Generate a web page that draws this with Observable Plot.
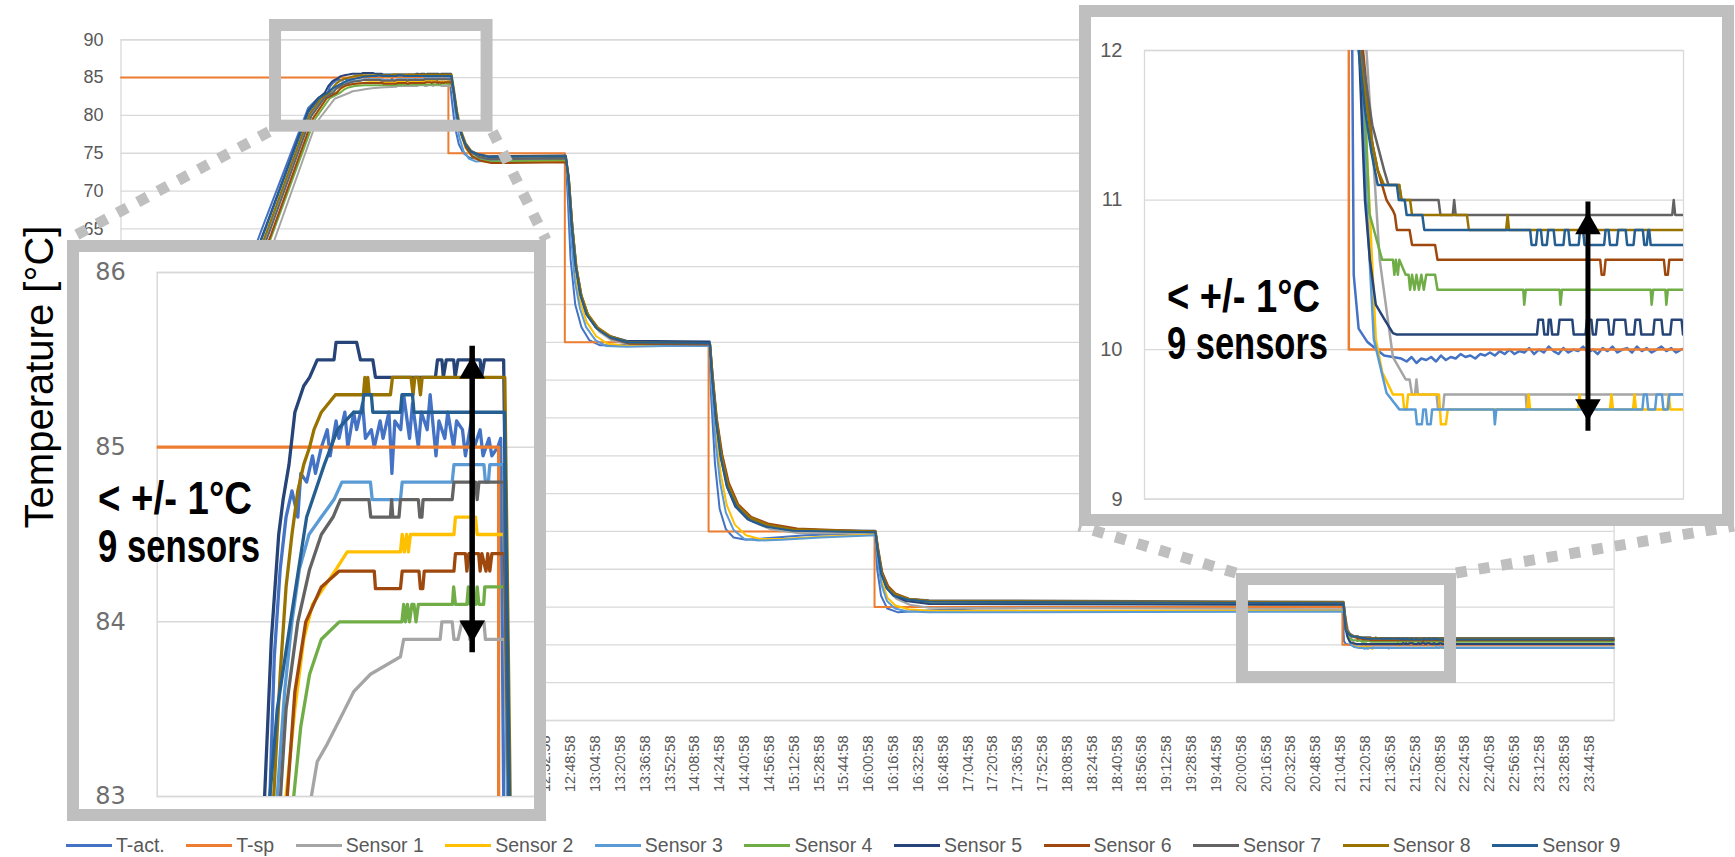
<!DOCTYPE html>
<html>
<head>
<meta charset="utf-8">
<script src="https://cdn.jsdelivr.net/npm/d3@7"></script>
<script src="https://cdn.jsdelivr.net/npm/@observablehq/plot@0.6"></script>
<style>
html,body{margin:0;padding:0;background:#fff;}
#chart{position:relative;width:1735px;height:857px;overflow:hidden;background:#fff;}
.layer{position:absolute;left:0;top:0;}
.inset{position:absolute;box-sizing:border-box;border:12px solid #bfbfbf;background:#fff;overflow:hidden;}
.inset svg{position:absolute;left:0;top:0;max-width:none !important;}
#legend{position:absolute;left:66px;top:831px;display:flex;align-items:center;font-family:"Liberation Sans",Arial,sans-serif;font-size:19.5px;color:#595959;white-space:nowrap;line-height:28px;}
.item{display:flex;align-items:center;margin-right:21.5px;}
.sw{width:46px;height:3px;margin-right:4px;}
#ytitle{position:absolute;left:38.7px;top:377px;transform:translate(-50%,-50%) rotate(-90deg);font:40px "Liberation Sans",Arial,sans-serif;color:#000;white-space:nowrap;}
</style>
</head>
<body>
<div id="chart"></div>
<script>
// ---------------- DATA (time = minutes after midnight, value = °C) ----------------
const seriesNames = ["T-act.","T-sp","Sensor 1","Sensor 2","Sensor 3","Sensor 4","Sensor 5","Sensor 6","Sensor 7","Sensor 8","Sensor 9"];
const seriesColors = ["#4472C4","#ED7D31","#A5A5A5","#FFC000","#5B9BD5","#70AD47","#264478","#9E480E","#636363","#997300","#255E91"];

const xTickLabels = ["8:00:58","8:16:58","8:32:58","8:48:58","9:04:58","9:20:58","9:36:58","9:52:58","10:08:58","10:24:58","10:40:58","10:56:58","11:12:58","11:28:58","11:44:58","12:00:58","12:16:58","12:32:58","12:48:58","13:04:58","13:20:58","13:36:58","13:52:58","14:08:58","14:24:58","14:40:58","14:56:58","15:12:58","15:28:58","15:44:58","16:00:58","16:16:58","16:32:58","16:48:58","17:04:58","17:20:58","17:36:58","17:52:58","18:08:58","18:24:58","18:40:58","18:56:58","19:12:58","19:28:58","19:44:58","20:00:58","20:16:58","20:32:58","20:48:58","21:04:58","21:20:58","21:36:58","21:52:58","22:08:58","22:24:58","22:40:58","22:56:58","23:12:58","23:28:58","23:44:58"];
const mainTimeDomain = [479.4, 1441.2];
const mainTempTicks = [0,5,10,15,20,25,30,35,40,45,50,55,60,65,70,75,80,85,90];

const leftInsetTimeDomain = [574.17, 706.58];
const leftInsetTempTicks = [83,84,85,86];
const rightInsetTimeDomain = [1224.5, 1334.5];
const rightInsetTempTicks = [9,10,11,12];

// highlighted zoom windows on the main chart
const zoomWindowTimes = [[578.95, 715.2],[1201.8, 1335.8]];
const zoomWindowTemps = [[78.58, 91.89],[5.68, 18.64]];

// double arrows ("< +/- 1°C")
const leftArrow = {t: 681.3, low: 83.88, high: 85.52};
const rightArrow = {t: 1315.0, low: 9.52, high: 10.92};
const annotationLines = ["< +/- 1°C", "9 sensors"];

const tSp = [[479.4,85],[690.3,85],[690.3,75],[765.3,75],[765.3,50],[857.9,50],[857.9,25],[964.8,25],[964.8,15],[1266.2,15],[1266.2,10],[1441,10]];

const tAct = [[479.4,22.3],[493,22.5],[572,66.0],[600,81.0],[607,82.4],[612.5,83.0],
[614,83.8],[616,84.3],[618,84.6],[620,84.75],[622,84.6],[623,84.85],[625,84.8],[627,84.95],[628,84.85],[630,85.0],[632,85.1],[633,84.95],[635,85.15],[636,85.05],[638,85.2],[639,85.0],[641,85.2],[642,85.1],[644,85.25],[645,85.05],[647,85.1],[648,85.0],[650,85.15],[651,85.05],[653,85.2],[654,84.85],[655,85.15],[657,85.1],[658,85.3],[660,85.05],[661,85.25],[663,85.0],[664,85.2],[666,85.1],[667,85.3],[669,84.95],[670,85.15],[672,85.05],[673,85.2],[675,85.0],[676,85.15],[678,85.1],[679,84.95],[681,85.15],[682,85.0],[684,85.1],[685,84.95],[687,85.05],[688,84.95],[690,85.0],[691,85.05],
[692.5,82.0],[694.5,78.5],[697,76.2],[700,75.0],[704,74.4],[710,74.2],[740,74.3],[765.5,74.4],
[767,70],[769,61],[772,55],[776,52],[781,50.3],[788,49.6],[800,49.6],[820,49.8],[858.2,49.8],
[859.5,43],[862,34],[865,28],[869,25.3],[874,24.2],[882,23.9],[895,24.1],[920,24.5],[964.9,24.8],
[966.5,20],[969,16.5],[973,14.8],[980,14.3],[995,14.5],[1030,14.8],[1100,14.9],[1266.3,15.0],
[1267.0,11.5],[1267.2,10.5],[1268.2,10.14],[1270,10.05],[1273.4,9.96],[1276.9,9.94],[1278,9.92],[1279,9.95],[1280,9.91],[1281,9.94],[1282,9.93],[1283,9.95],[1284,9.92],[1285,9.96],[1286,9.93],[1287,9.95],[1288,9.94],[1289,9.97],[1290,9.95],[1291,9.96],[1292,9.94],[1293,9.97],[1294,9.96],[1295,9.98],[1296,9.96],[1297,9.99],[1298,9.97],[1299,10.0],[1300,9.97],[1301,9.99],[1302,9.98],[1303,10.01],[1304,9.97],[1305,10.0],[1306,9.98],[1307,10.02],[1308,9.99],[1309,9.97],[1310,10.01],[1311,9.98],[1312,10.0],[1313,9.99],[1314,10.02],[1315,9.98],[1316,10.0],[1317,9.97],[1318,10.01],[1319,9.99],[1320,10.02],[1321,9.98],[1322,10.0],[1323,10.01],[1324,9.98],[1325,10.02],[1326,9.99],[1327,10.01],[1328,9.98],[1329,10.0],[1330,10.02],[1331,9.99],[1332,10.01],[1333,9.98],[1334,10.0],[1335,10.01],[1380,10.0],[1441,10.0]];

const sensor1 = [[479.4,21.5],[497,21.7],[578,63.4],[605,79.0],[617,82.2],[626.6,83.0],
[628.6,83.2],[632,83.3],[636.5,83.45],[641,83.6],[646.7,83.7],[656.9,83.8],[658,83.9],[670.4,83.9],[671,84.0],[674.5,84.0],[675.1,83.9],[676.5,83.9],[677.8,84.0],[680,84.0],[680.5,83.9],[681.2,84.0],[685.3,84.0],[685.8,83.9],[692.4,83.9],
[694.2,82.3],[696.3,79.5],[699,77.2],[702.3,75.5],[706.5,74.5],[712,74.0],[719,73.9],[766.2,74.0],
[768,71.4],[770.3,65.2],[773,59.8],[776.3,56.0],[780.6,53.4],[787.5,51.4],[796,50.2],[808,49.7],[859,49.7],
[860.6,45.3],[863.4,39.2],[866.9,34.4],[871.2,30.6],[877.3,28],[886,26.3],[897.5,25.3],[915,24.8],[965.6,24.7],
[967.3,22.2],[969.9,19.1],[973.8,17.2],[978.8,16.1],[987.5,15.3],[1000,14.9],[1267.1,14.7],
[1269.8,12.0],[1272.5,10.6],[1275.2,9.95],[1277.8,9.8],[1278.6,9.8],[1279.1,9.7],[1279.7,9.7],[1280.0,9.8],[1280.3,9.7],[1284.1,9.7],[1284.4,9.6],[1285.4,9.6],[1285.7,9.7],[1302.3,9.7],[1302.5,9.6],[1302.7,9.7],[1334.5,9.7],[1441,9.7]];

const sensor2 = [[479.4,22.0],[496,22.2],[576,64.0],[603,79.5],[612,82.3],[618,83.0],
[621,83.5],[624,83.9],[627,84.1],[631,84.2],[635,84.3],[638.8,84.4],[656.9,84.4],[657.5,84.5],[658.2,84.4],[659,84.5],[659.6,84.4],[660.3,84.5],[675.1,84.5],[675.6,84.6],[682.4,84.6],[683,84.5],[692.2,84.5],
[693.9,82.9],[695.8,80.2],[698.3,77.6],[701.3,75.7],[705.3,74.6],[710.5,74.0],[717,73.8],[766.1,73.9],
[767.6,71.2],[769.6,64.8],[772.2,59],[775.3,55.3],[779.3,52.7],[785.5,50.8],[793,49.8],[805,49.5],[858.6,49.6],
[860.1,44.8],[862.7,38],[865.8,32.5],[869.6,28.5],[874.8,25.9],[882,24.5],[891,24.0],[905,24.0],[930,24.3],[965.3,24.6],
[967,21.8],[969.5,18.4],[973.2,16.2],[978.3,15.2],[986.5,14.7],[1000,14.5],[1266.8,14.5],
[1268.9,12.0],[1271.7,10.07],[1273.0,9.85],[1275.2,9.7],[1277.2,9.7],[1277.5,9.6],[1278.0,9.6],[1278.3,9.7],[1284.6,9.7],[1285.0,9.5],[1286.0,9.5],[1286.4,9.6],[1302.6,9.6],[1302.9,9.7],[1303.2,9.6],[1313.0,9.6],[1313.3,9.7],[1313.6,9.6],[1319.5,9.6],[1319.8,9.7],[1320.1,9.6],[1324.2,9.6],[1324.5,9.7],[1324.8,9.6],[1331.2,9.6],[1331.5,9.7],[1331.8,9.6],[1334.5,9.6],[1441,9.6]];

const sensor3 = [[479.4,22.2],[495,22.4],[574,64.8],[601,80.0],[609,82.2],[615,83.0],
[617.5,83.6],[620,84.0],[622.5,84.3],[625.8,84.5],[630,84.6],[634.3,84.7],[637,84.8],[646.7,84.8],[647.3,84.7],[656.9,84.7],[657.5,84.8],[674.5,84.8],[675.1,84.9],[685.3,84.9],[685.8,84.8],[686.8,84.8],[687.3,84.9],[692.0,84.9],
[693.3,83.0],[695,80],[697.2,77.2],[700,75.3],[703.5,74.3],[708,73.9],[715,74.0],[766,74.2],
[767.4,71],[769.3,64],[771.8,58],[775,54.5],[779,52],[785,50.3],[792,49.5],[805,49.4],[830,49.5],[858.4,49.5],
[859.8,44],[862.3,37],[865.3,31.5],[869,27.5],[874,25.2],[881,24.0],[890,23.8],[905,23.9],[930,24.2],[965.1,24.5],
[966.7,21.5],[969.2,18],[972.8,15.8],[978,14.8],[986,14.4],[1000,14.3],[1266.6,14.4],
[1268.8,12.0],[1269.8,11.0],[1271.3,10.07],[1273.9,9.71],[1276.5,9.6],[1279.8,9.6],[1280.1,9.5],[1281.1,9.5],[1281.4,9.6],[1281.9,9.6],[1282.2,9.5],[1282.9,9.5],[1283.2,9.6],[1295.8,9.6],[1296.0,9.5],[1296.3,9.6],[1326.1,9.6],[1326.4,9.7],[1327.0,9.7],[1327.3,9.6],[1328.7,9.6],[1329.0,9.7],[1330.1,9.7],[1330.4,9.6],[1331.3,9.6],[1331.6,9.7],[1334.5,9.7],[1336,9.6],[1441,9.6]];

const sensor4 = [[479.4,21.6],[496,21.8],[576,63.8],[604,79.4],[614,82.3],[620.6,83.0],
[623,83.4],[626,83.7],[630,83.9],[636.1,84.0],[657.4,84.0],[658,84.1],[658.6,84.0],[659.3,84.1],[660,84.0],[660.8,84.1],[661.5,84.1],[662.2,84.0],[663,84.1],[674.6,84.1],[675,84.2],[675.6,84.1],[679.5,84.1],[680,84.2],[680.6,84.1],[682.5,84.1],[683,84.2],[683.6,84.1],[685.2,84.1],[685.6,84.2],[692.5,84.2],
[694.2,82.6],[696.2,79.8],[698.8,77.4],[702,75.6],[706,74.6],[711.5,74.1],[718,73.9],[766.2,74.1],
[768,71.5],[770.2,65.3],[772.8,59.9],[776,56.2],[780.2,53.7],[786.8,51.8],[795.3,50.6],[807,49.9],[858.9,49.8],
[860.5,45.7],[863.2,39.7],[866.6,35.0],[870.8,31.2],[876.8,28.5],[885.3,26.8],[896.5,25.8],[914,25.2],[965.5,24.9],
[967.2,22.5],[969.7,19.5],[973.5,17.6],[978,16.6],[986.5,16.0],[1000,15.5],[1267.0,15.3],
[1269.0,12.0],[1270.4,10.91],[1273.0,10.6],[1275.2,10.6],[1275.5,10.5],[1275.8,10.6],[1276.2,10.5],[1276.5,10.6],[1277.8,10.5],[1278.4,10.5],[1278.7,10.4],[1279.1,10.5],[1279.6,10.4],[1280.0,10.5],[1280.5,10.4],[1281.0,10.5],[1281.5,10.4],[1282.0,10.5],[1283.8,10.5],[1284.3,10.4],[1301.8,10.4],[1302.0,10.3],[1302.3,10.4],[1309.2,10.4],[1309.4,10.3],[1309.7,10.4],[1327.8,10.4],[1328.0,10.3],[1328.3,10.4],[1330.8,10.4],[1331.0,10.3],[1331.3,10.4],[1334.5,10.4],[1441,10.4]];

const sensor5 = [[479.4,22.0],[494,22.2],[573,65.5],[600,80.6],[606,82.2],[610.7,83.0],
[613,83.9],[615.5,84.5],[617,84.7],[619,84.9],[621,85.2],[624,85.35],[626,85.4],[628.6,85.5],[634.3,85.5],[635,85.6],[642,85.6],[643.3,85.5],[647.5,85.5],[648.4,85.4],[668.8,85.4],[669.5,85.5],[671,85.5],[671.5,85.4],[672.5,85.5],[675,85.5],[675.5,85.4],[676.5,85.5],[684,85.5],[684.5,85.4],[685.5,85.5],[692,85.5],
[693.5,83.5],[695,81],[697.5,78.3],[700.5,76.5],[704,75.4],[709,74.9],[716,74.6],[765.8,74.7],
[767.5,72],[769.5,66],[772,60.5],[775,56.5],[779,53.8],[785,52],[793,50.9],[805,50.2],[858.6,50.1],
[860,46],[862.5,40],[865.5,35],[869.5,31],[875,28.3],[883,26.6],[894,25.7],[910,25.2],[965.3,25.1],
[966.8,22.5],[969,19.5],[972.5,17.5],[977,16.5],[985,15.8],[1000,15.4],[1266.8,15.3],
[1268.3,12.0],[1269.5,11.0],[1270.5,10.6],[1271.7,10.3],[1273.5,10.2],[1275.2,10.11],[1276,10.1],[1304.6,10.1],[1304.9,10.2],[1305.8,10.2],[1306.1,10.1],[1306.8,10.1],[1307.0,10.2],[1307.4,10.2],[1307.7,10.1],[1308.9,10.1],[1309.2,10.2],[1311.8,10.2],[1312.1,10.1],[1314.5,10.1],[1314.8,10.2],[1315.7,10.2],[1316.0,10.1],[1316.6,10.1],[1316.9,10.2],[1319.1,10.2],[1319.4,10.1],[1320.1,10.1],[1320.4,10.2],[1322.6,10.2],[1322.9,10.1],[1324.4,10.1],[1324.7,10.2],[1325.6,10.2],[1325.9,10.1],[1328.3,10.1],[1328.6,10.2],[1330.0,10.2],[1330.3,10.1],[1331.8,10.1],[1332.1,10.2],[1334.1,10.2],[1334.4,10.1],[1441,10.1]];

const sensor6 = [[479.4,21.7],[496,21.9],[576,64.2],[603,79.6],[612,82.3],[618.4,83.0],
[621,83.6],[624.7,84.0],[630,84.2],[636,84.29],[648,84.29],[648.4,84.19],[656.9,84.19],[657.5,84.29],[663.2,84.29],[663.7,84.19],[664.5,84.19],[665,84.29],[675.1,84.29],[675.6,84.39],[679,84.39],[679.5,84.29],[680.2,84.39],[683.5,84.39],[684,84.29],[684.6,84.39],[686,84.29],[686.6,84.39],[687.3,84.29],[688,84.39],[692.3,84.39],
[694,82.8],[696,80],[698.5,77.6],[701.5,75.8],[705.5,74.6],[711,74.0],[718,73.7],[766.2,73.8],
[768,71.3],[770.2,65.2],[772.8,59.8],[776,56.1],[780.3,53.6],[787,51.7],[795.5,50.5],[807,49.8],[858.9,49.7],
[860.5,45.8],[863.3,39.9],[866.7,35.2],[871,31.4],[877,28.6],[885.5,26.9],[897,26.0],[915,25.4],[965.6,25.0],
[967.3,22.6],[969.8,19.6],[973.6,17.8],[978.3,16.8],[987,16.1],[1000,15.8],[1267.1,15.5],
[1269.1,12.0],[1270.8,11.41],[1272.1,11.2],[1273.9,11.0],[1275.2,10.93],[1275.6,10.9],[1276.0,10.8],[1278.6,10.8],[1279.1,10.7],[1283.8,10.7],[1284.3,10.6],[1317.5,10.6],[1317.8,10.5],[1318.3,10.5],[1318.6,10.6],[1330.5,10.6],[1330.8,10.5],[1331.3,10.5],[1331.6,10.6],[1334.5,10.6],[1441,10.6]];

const sensor7 = [[479.4,21.9],[495,22.1],[575,64.6],[602,79.9],[610,82.2],[616.1,83.0],
[618,83.5],[622,84.0],[626,84.3],[630,84.5],[634,84.6],[636.5,84.7],[646.2,84.7],[646.8,84.6],[653.5,84.6],[653.9,84.7],[654.3,84.6],[656.4,84.6],[656.9,84.7],[663,84.7],[663.5,84.6],[664.2,84.6],[664.6,84.7],[674.5,84.7],[675.1,84.8],[682.5,84.8],[683,84.7],[683.6,84.8],[692.2,84.8],
[693.8,83.0],[695.5,80.5],[698,78],[701,76.2],[705,75.1],[710,74.5],[717,74.2],[766,74.3],
[767.6,71.8],[769.7,65.6],[772.3,60.1],[775.5,56.3],[779.6,53.7],[786,51.8],[794.5,50.6],[806,49.9],[858.7,49.8],
[860.2,45.6],[862.9,39.6],[866.2,34.8],[870.3,31],[876.3,28.4],[884.5,26.7],[895.5,25.8],[912,25.2],[965.4,24.9],
[967.1,22.4],[969.5,19.4],[973.2,17.6],[977.8,16.7],[986.3,16.1],[1000,15.9],[1267,15.7],
[1268.7,12.0],[1271,11.5],[1273.4,11.2],[1274.3,11.1],[1276.5,11.1],[1276.9,11.0],[1284.5,11.0],[1284.9,10.9],[1287.4,10.9],[1287.7,11.0],[1288.0,10.9],[1332.2,10.9],[1332.5,11.0],[1332.8,10.9],[1334.5,10.9],[1441,10.9]];

const sensor8 = [[479.4,21.8],[495,22.0],[574,65.0],[601,80.2],[608,82.2],[613.8,83.0],
[616,83.7],[618,84.2],[620,84.5],[622,84.75],[624,84.9],[626,85.0],[627.5,85.1],[630,85.2],[634.8,85.3],[644.3,85.3],[644.8,85.4],[645.3,85.3],[645.8,85.4],[646.3,85.3],[653.5,85.3],[654.2,85.4],[660.5,85.4],[661.2,85.3],[661.8,85.4],[663,85.4],[663.7,85.3],[664.3,85.4],[692.4,85.4],
[694,83.3],[696,80.5],[698.5,78],[701.5,76.3],[705.5,75.2],[711,74.7],[717,74.5],[766,74.6],
[767.8,72],[770,65.8],[772.5,60.3],[775.8,56.4],[780,53.8],[786.5,52],[795,50.8],[807,50.0],[858.8,49.9],
[860.3,45.8],[863,39.8],[866.3,35],[870.5,31.2],[876.5,28.5],[885,26.8],[896,25.9],[912,25.3],[965.5,25.0],
[967.2,22.4],[969.6,19.4],[973.3,17.6],[978,16.7],[986.5,16.1],[1000,15.8],[1267,15.6],
[1268.3,12.0],[1270.8,11.41],[1272.1,11.2],[1273.4,11.1],[1276.5,11.1],[1277.0,11.0],[1278.7,11.0],[1279.1,10.9],[1290.3,10.9],[1290.7,10.8],[1298.3,10.8],[1298.6,10.9],[1298.9,10.8],[1334.5,10.8],[1441,10.8]];

const sensor9 = [[479.4,22.1],[494,22.3],[573,65.3],[600,80.4],[607,82.3],[612.5,83.0],
[615,83.5],[619.5,84.0],[625,84.6],[631,84.9],[635.5,85.1],[641,85.2],[643.9,85.2],[644.4,85.3],[647,85.3],[647.5,85.2],[656.9,85.2],[657.4,85.3],[661,85.3],[661.5,85.2],[692.3,85.2],
[693.8,83.2],[695.5,80.5],[698,78],[701,76.3],[705,75.2],[710,74.8],[716,74.5],[766,74.6],
[767.7,71.8],[769.8,65.5],[772.3,60],[775.5,56.2],[779.5,53.6],[786,51.8],[794,50.7],[806,50.0],[858.7,49.9],
[860.2,45.5],[862.8,39.5],[866,34.6],[870,30.8],[876,28.2],[884,26.5],[895,25.6],[912,25.1],[965.4,24.9],
[967,22.3],[969.3,19.3],[973,17.4],[977.5,16.5],[986,16.0],[1000,15.7],[1266.9,15.5],
[1268.2,12.0],[1269.5,11.6],[1270.8,11.32],[1272.1,11.1],[1276.0,11.1],[1276.4,11.0],[1277.6,11.0],[1278.0,10.9],[1281.2,10.9],[1281.6,10.8],[1303.2,10.8],[1303.5,10.7],[1304.4,10.7],[1304.7,10.8],[1305.4,10.8],[1305.7,10.7],[1306.6,10.7],[1306.9,10.8],[1308.0,10.8],[1308.3,10.7],[1310.0,10.7],[1310.3,10.8],[1311.0,10.8],[1311.3,10.7],[1313.1,10.7],[1313.4,10.8],[1314.0,10.8],[1314.3,10.7],[1318.3,10.7],[1318.6,10.8],[1319.2,10.8],[1319.5,10.7],[1320.9,10.7],[1321.2,10.8],[1322.7,10.8],[1323.0,10.7],[1324.3,10.7],[1324.6,10.8],[1326.2,10.8],[1326.5,10.7],[1327.0,10.7],[1327.3,10.8],[1327.5,10.8],[1327.8,10.7],[1334.5,10.7],[1441,10.7]];

// ---------------- BUILD ----------------
const seriesData = [tAct, tSp, sensor1, sensor2, sensor3, sensor4, sensor5, sensor6, sensor7, sensor8, sensor9];
const rows = seriesData.flatMap((pts, i) => pts.map(([t, v]) => ({name: seriesNames[i], t, v})));
const toMin = s => { const [h, m, sec] = s.split(":").map(Number); return h * 60 + m + sec / 60; };
const xTickValues = xTickLabels.map(toMin);
const labelOf = new Map(xTickValues.map((v, i) => [v, xTickLabels[i]]));
const SANS = '"Liberation Sans",Arial,sans-serif';
const color = {domain: seriesNames, range: seriesColors};

const chart = document.getElementById("chart");
const windows = zoomWindowTimes.map((tt, i) => ({t1: tt[0], t2: tt[1], v1: zoomWindowTemps[i][0], v2: zoomWindowTemps[i][1]}));

// layout of the main plot and the inset frames
const W = 1735, H = 805, mL = 120.5, mR = 121.4, mT = 39.3, mB = 85;
const leftBox = {x: 67, y: 240, w: 479, h: 581};
const rightBox = {x: 1079, y: 5, w: 655, h: 521};
// tick labels that lie fully under the left inset are not drawn (they are hidden in the original figure)
const px = d3.scaleLinear(mainTimeDomain, [mL, W - mR]);
const py = d3.scaleLinear([0, 90], [H - mB, mT]);
const visibleYTicks = mainTempTicks.filter(v => py(v) + 7 < leftBox.y);
const visibleXTicks = xTickValues.filter(t => px(t) + 7 > leftBox.x + leftBox.w);

const main = Plot.plot({
  width: W, height: H,
  marginLeft: mL, marginRight: mR, marginTop: mT, marginBottom: mB,
  style: {fontFamily: SANS, background: "transparent", overflow: "visible"},
  x: {domain: mainTimeDomain, label: null},
  y: {domain: [0, 90], label: null},
  color,
  marks: [
    Plot.gridY(mainTempTicks, {stroke: "#d9d9d9", strokeOpacity: 1, strokeWidth: 1.3}),
    Plot.frame({stroke: "#d9d9d9", strokeWidth: 1.3}),
    Plot.axisY(visibleYTicks, {tickSize: 0, tickPadding: 17.5, fontSize: 18, color: "#595959", label: null}),
    Plot.axisX(visibleXTicks, {tickSize: 0, tickPadding: 15, tickRotate: -90, fontSize: 14.5, color: "#595959", label: null, tickFormat: d => labelOf.get(d)}),
    Plot.line(rows, {x: "t", y: "v", z: "name", stroke: "name", strokeWidth: 2}),
    Plot.rect(windows, {x1: "t1", x2: "t2", y1: "v1", y2: "v2", fill: "none", stroke: "#bfbfbf", strokeWidth: 12})
  ]
});
main.classList.add("layer");
chart.appendChild(main);

// dotted connectors between zoom windows and insets
const sx = main.scale("x"), sy = main.scale("y");
const w0 = windows[0], w1 = windows[1];
const connectors = [
  [sx.apply(w0.t1) - 6, sy.apply(w0.v1) + 6, leftBox.x, leftBox.y],
  [sx.apply(w0.t2) + 6, sy.apply(w0.v1) + 6, leftBox.x + leftBox.w, leftBox.y],
  [sx.apply(w1.t1) - 6, sy.apply(w1.v2) - 6, rightBox.x, rightBox.y + rightBox.h],
  [sx.apply(w1.t2) + 6, sy.apply(w1.v2) - 6, rightBox.x + rightBox.w, rightBox.y + rightBox.h]
];
const conn = d3.create("svg").attr("class", "layer").attr("width", 1735).attr("height", 857);
conn.selectAll("line").data(connectors).join("line")
  .attr("x1", d => d[0]).attr("y1", d => d[1]).attr("x2", d => d[2]).attr("y2", d => d[3])
  .attr("stroke", "#bfbfbf").attr("stroke-width", 11).attr("stroke-dasharray", "11 12");
chart.appendChild(conn.node());

function arrowMarks(a, width) {
  const d = [a];
  return [
    Plot.ruleX(d, {x: "t", y1: "low", y2: "high", stroke: "black", strokeWidth: width, insetTop: 10, insetBottom: 10}),
    Plot.dot(d, {x: "t", y: "high", symbol: "triangle", r: 9.5, fill: "black", stroke: "none", dy: 14.8}),
    Plot.dot(d, {x: "t", y: "low", symbol: "triangle", r: 9.5, fill: "black", stroke: "none", rotate: 180, dy: -14.8})
  ];
}

// left inset
const leftDiv = document.createElement("div");
leftDiv.className = "inset";
Object.assign(leftDiv.style, {left: leftBox.x + "px", top: leftBox.y + "px", width: leftBox.w + "px", height: leftBox.h + "px"});
const leftPlot = Plot.plot({
  width: 467, height: 557,
  marginLeft: 77.7, marginRight: 0, marginTop: 20, marginBottom: 13,
  style: {fontFamily: '"DejaVu Sans",sans-serif', background: "transparent"},
  x: {domain: leftInsetTimeDomain, label: null, axis: null},
  y: {domain: [83, 86], label: null},
  color,
  marks: [
    Plot.gridY(leftInsetTempTicks, {stroke: "#d9d9d9", strokeOpacity: 1, strokeWidth: 1.5}),
    Plot.frame({stroke: "#d9d9d9", strokeWidth: 1.5}),
    Plot.axisY(leftInsetTempTicks, {tickSize: 0, tickPadding: 31.5, fontSize: 24, color: "#6f6f6f", label: null, tickFormat: d => String(d)}),
    Plot.line(rows, {x: "t", y: "v", z: "name", stroke: "name", strokeWidth: 3.3, clip: true}),
    ...arrowMarks(leftArrow, 5.5)
  ]
});
leftDiv.appendChild(leftPlot);
chart.appendChild(leftDiv);

// right inset
const rightDiv = document.createElement("div");
rightDiv.className = "inset";
Object.assign(rightDiv.style, {left: rightBox.x + "px", top: rightBox.y + "px", width: rightBox.w + "px", height: rightBox.h + "px"});
const rightPlot = Plot.plot({
  width: 631, height: 497,
  marginLeft: 53, marginRight: 39, marginTop: 33, marginBottom: 15.4,
  style: {fontFamily: SANS, background: "transparent"},
  x: {domain: rightInsetTimeDomain, label: null, axis: null},
  y: {domain: [9, 12], label: null},
  color,
  marks: [
    Plot.gridY(rightInsetTempTicks, {stroke: "#d9d9d9", strokeOpacity: 1, strokeWidth: 1.3}),
    Plot.frame({stroke: "#d9d9d9", strokeWidth: 1.3}),
    Plot.axisY(rightInsetTempTicks, {tickSize: 0, tickPadding: 22, fontSize: 20, color: "#595959", label: null, tickFormat: d => String(d)}),
    Plot.line(rows, {x: "t", y: "v", z: "name", stroke: "name", strokeWidth: 2.5, clip: true}),
    ...arrowMarks(rightArrow, 5)
  ]
});
rightDiv.appendChild(rightPlot);
chart.appendChild(rightDiv);

// annotation text
const ann = d3.create("svg").attr("class", "layer").attr("width", 1735).attr("height", 857)
  .style("font-family", SANS).style("font-weight", "bold").style("font-size", "46px");
const annPos = [{x: 98, y: [514, 562], len: [154, 162]}, {x: 1167, y: [312, 359], len: [153, 161]}];
annPos.forEach(p => annotationLines.forEach((s, i) => ann.append("text")
  .attr("x", p.x).attr("y", p.y[i]).attr("fill", "#000")
  .attr("textLength", p.len[i]).attr("lengthAdjust", "spacingAndGlyphs").text(s)));
chart.appendChild(ann.node());

// y-axis title
const yt = document.createElement("div");
yt.id = "ytitle"; yt.textContent = "Temperature [°C]";
chart.appendChild(yt);

// legend
const lg = document.createElement("div");
lg.id = "legend";
seriesNames.forEach((n, i) => {
  const it = document.createElement("div"); it.className = "item";
  const sw = document.createElement("div"); sw.className = "sw"; sw.style.background = seriesColors[i];
  const tx = document.createElement("span"); tx.textContent = n;
  it.appendChild(sw); it.appendChild(tx); lg.appendChild(it);
});
chart.appendChild(lg);
</script>
</body>
</html>
